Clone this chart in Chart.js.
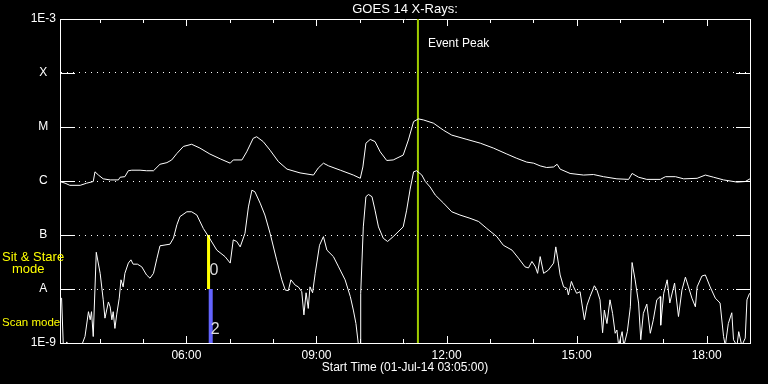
<!DOCTYPE html>
<html>
<head>
<meta charset="utf-8">
<script src="https://cdn.jsdelivr.net/npm/chart.js@4"></script>
<style>
html,body{margin:0;padding:0;background:#000;}
canvas{display:block;}
</style>
</head>
<body>
<canvas id="c" width="768" height="384"></canvas>
<script>
// ---- Data (time in decimal hours of 01-Jul-2014, flux as log10 W/m^2) ----
const longTime = [
  3.08,3.20,3.31,3.55,3.70,3.85,3.89,3.97,4.08,4.24,
  4.43,4.47,4.58,4.66,4.74,4.93,5.08,5.24,5.39,5.55,
  5.66,5.78,5.93,6.12,6.31,6.54,6.78,7.01,7.08,7.28,
  7.39,7.54,7.62,7.77,7.93,8.12,8.32,8.62,8.93,9.04,
  9.16,9.28,9.55,9.85,10.01,10.07,10.14,10.24,10.35,10.47,
  10.62,10.77,11.00,11.12,11.24,11.35,11.47,11.70,11.93,12.12,
  12.47,12.78,13.08,13.39,13.62,13.85,14.01,14.16,14.31,14.47,
  14.55,14.62,14.85,15.16,15.39,15.62,15.93,16.20,16.28,16.43,
  16.62,16.93,17.05,17.28,17.47,17.78,17.97,18.16,18.39,18.70,
  18.89,19.00
];
const longFlux = [
  -6.01,-6.04,-6.08,-6.08,-6.04,-6.01,-5.83,-5.89,-5.96,-5.98,
  -5.98,-5.93,-5.92,-5.81,-5.80,-5.80,-5.81,-5.81,-5.69,-5.66,
  -5.61,-5.49,-5.36,-5.32,-5.39,-5.50,-5.59,-5.67,-5.61,-5.61,
  -5.46,-5.21,-5.18,-5.27,-5.43,-5.64,-5.78,-5.85,-5.89,-5.76,
  -5.67,-5.72,-5.80,-5.89,-5.95,-5.74,-5.30,-5.23,-5.27,-5.46,
  -5.62,-5.61,-5.52,-5.24,-4.90,-4.85,-4.87,-4.93,-5.06,-5.15,
  -5.23,-5.30,-5.39,-5.50,-5.58,-5.65,-5.67,-5.72,-5.75,-5.74,
  -5.69,-5.78,-5.86,-5.89,-5.88,-5.92,-5.96,-5.97,-5.86,-5.93,
  -5.97,-5.97,-5.92,-5.92,-5.96,-5.95,-5.89,-5.93,-5.98,-6.02,
  -6.01,-5.96
];
const shortTime = [
  3.08,3.12,3.16,3.22,3.24,3.27,3.58,3.66,3.74,3.78,
  3.81,3.85,3.92,4.01,4.08,4.12,4.20,4.24,4.28,4.31,
  4.35,4.39,4.45,4.49,4.54,4.58,4.66,4.72,4.77,4.87,
  4.97,5.08,5.16,5.24,5.32,5.39,5.62,5.70,5.78,5.85,
  6.01,6.12,6.24,6.39,6.51,6.70,6.89,7.01,7.08,7.16,
  7.24,7.35,7.43,7.51,7.58,7.70,7.81,7.93,8.08,8.20,
  8.28,8.35,8.41,8.51,8.58,8.66,8.71,8.76,8.81,8.85,
  8.91,8.97,9.07,9.16,9.24,9.39,9.51,9.66,9.78,9.85,
  9.91,9.97,10.01,10.02,10.08,10.14,10.20,10.28,10.35,10.43,
  10.54,10.64,10.77,11.00,11.08,11.16,11.24,11.31,11.43,11.51,
  11.62,11.74,11.93,12.12,12.31,12.54,12.74,12.93,13.16,13.31,
  13.51,13.66,13.81,13.89,13.97,14.05,14.10,14.16,14.24,14.35,
  14.47,14.52,14.58,14.62,14.70,14.78,14.81,14.88,14.93,15.00,
  15.08,15.12,15.18,15.24,15.31,15.41,15.47,15.54,15.60,15.64,
  15.70,15.77,15.83,15.89,15.93,15.97,16.05,16.09,16.17,16.24,
  16.28,16.35,16.43,16.48,16.54,16.62,16.70,16.77,16.85,16.93,
  16.94,17.01,17.09,17.15,17.26,17.35,17.43,17.51,17.58,17.66,
  17.74,17.78,17.89,17.97,18.08,18.20,18.31,18.39,18.43,18.50,
  18.58,18.62,18.70,18.74,18.81,18.89,18.93,18.99
];
const shortFlux = [
  -8.20,-8.17,-9.05,-9.05,-8.98,-9.05,-9.05,-8.88,-8.42,-8.57,
  -8.42,-8.88,-7.32,-7.71,-8.20,-8.54,-8.24,-8.33,-8.57,-8.42,
  -8.73,-8.48,-8.17,-7.83,-7.96,-7.71,-7.52,-7.46,-7.54,-7.54,
  -7.59,-7.74,-7.80,-7.71,-7.43,-7.20,-7.17,-7.06,-6.81,-6.66,
  -6.57,-6.57,-6.63,-6.88,-7.03,-7.28,-7.40,-7.52,-7.09,-7.12,
  -7.22,-6.97,-6.48,-6.17,-6.20,-6.41,-6.63,-6.97,-7.46,-7.83,
  -8.02,-8.03,-7.83,-7.93,-7.96,-8.05,-8.48,-8.07,-8.36,-7.96,
  -8.07,-7.71,-7.19,-7.03,-7.28,-7.40,-7.59,-7.83,-8.14,-8.39,
  -8.64,-9.05,-9.05,-8.08,-6.85,-6.29,-6.25,-6.29,-6.54,-6.85,
  -7.06,-7.12,-7.03,-6.85,-6.54,-6.15,-5.83,-5.81,-5.89,-6.01,
  -6.11,-6.26,-6.41,-6.57,-6.63,-6.69,-6.75,-6.88,-7.03,-7.19,
  -7.28,-7.43,-7.59,-7.61,-7.49,-7.59,-7.71,-7.40,-7.71,-7.65,
  -7.52,-7.22,-7.52,-7.74,-7.96,-7.99,-8.11,-7.86,-7.96,-8.08,
  -8.05,-8.26,-8.57,-8.30,-8.14,-7.94,-8.02,-8.20,-8.81,-8.39,
  -8.64,-8.20,-8.45,-8.82,-8.76,-9.05,-8.79,-9.05,-8.79,-8.33,
  -7.51,-7.83,-8.26,-8.94,-8.45,-8.28,-8.82,-8.57,-8.20,-8.14,
  -8.67,-8.08,-7.83,-8.26,-7.89,-8.51,-8.02,-7.78,-7.96,-8.17,
  -8.33,-7.96,-7.76,-7.74,-7.96,-8.17,-8.26,-8.88,-9.05,-8.64,
  -8.44,-8.94,-9.05,-8.79,-9.05,-8.91,-8.20,-8.08
];
const xMin = 3 + 5/60;      // 03:05
const xMax = 19.0;
const majorHours = [6, 9, 12, 15, 18];
const majorLabels = ['06:00', '09:00', '12:00', '15:00', '18:00'];
const minorHours = [4,5,6,7,8,9,10,11,12,13,14,15,16,17,18,19];
const yLevels = [-9, -8, -7, -6, -5, -4, -3];
const yLabels = ['1E-9', 'A', 'B', 'C', 'M', 'X', '1E-3'];
const peakTime = 11.34;
const sitTime = 6.51, sitRange = [-7, -8];
const scanTime = 6.56, scanRange = [-8, -9];

const FONT = 'Liberation Sans';
Chart.defaults.font.family = FONT;
Chart.defaults.color = '#fff';

const pts = (t, v) => t.map((x, i) => ({x: x, y: v[i]}));

const bgPlugin = {
  id: 'bg',
  beforeDraw(chart) {
    const c = chart.ctx;
    c.save(); c.fillStyle = '#000'; c.fillRect(0, 0, chart.width, chart.height); c.restore();
  }
};

const ticksPlugin = {
  id: 'innerTicks',
  afterDraw(chart) {
    const c = chart.ctx, xs = chart.scales.x, ys = chart.scales.y;
    const a = chart.chartArea;
    c.save();
    c.strokeStyle = '#fff'; c.lineWidth = 1;
    c.beginPath();
    minorHours.forEach(h => {
      const px = Math.round(xs.getPixelForValue(h)) + 0.5;
      const len = majorHours.includes(h) ? 7 : 4;
      c.moveTo(px, a.bottom); c.lineTo(px, a.bottom - len);
      c.moveTo(px, a.top); c.lineTo(px, a.top + len);
    });
    yLevels.slice(1, -1).forEach(v => {
      const py = Math.round(ys.getPixelForValue(v)) + 0.5;
      c.moveTo(a.left, py); c.lineTo(a.left + 15, py);
      c.moveTo(a.right, py); c.lineTo(a.right - 14, py);
    });
    c.stroke();
    // annotations
    c.textBaseline = 'middle';
    c.textAlign = 'left';
    c.fillStyle = '#fff';
    c.font = '12px "' + FONT + '"';
    c.fillText('Event Peak', xs.getPixelForValue(peakTime) + 10, ys.getPixelForValue(-3.45));
    c.fillStyle = '#ddd';
    c.font = '16px "' + FONT + '"';
    c.fillText('0', xs.getPixelForValue(sitTime) + 1, ys.getPixelForValue(-7.65));
    c.fillText('2', xs.getPixelForValue(scanTime), ys.getPixelForValue(-8.75));
    c.fillStyle = '#ffff00';
    c.font = '13px "' + FONT + '"';
    c.fillText('Sit & Stare', 2, ys.getPixelForValue(-7.41));
    c.fillText('mode', 12, ys.getPixelForValue(-7.64));
    c.font = '11.5px "' + FONT + '"';
    c.fillText('Scan mode', 2, ys.getPixelForValue(-8.62));
    c.restore();
  }
};

new Chart(document.getElementById('c'), {
  type: 'line',
  data: {
    datasets: [
      {data: pts(longTime, longFlux), borderColor: '#fff', borderWidth: 1, pointRadius: 0, tension: 0},
      {data: pts(shortTime, shortFlux), borderColor: '#fff', borderWidth: 1, pointRadius: 0, tension: 0},
      {data: [{x: peakTime, y: -9}, {x: peakTime, y: -3}], borderColor: '#a0cc00', borderWidth: 2, pointRadius: 0},
      {data: [{x: sitTime, y: sitRange[0]}, {x: sitTime, y: sitRange[1]}], borderColor: '#ffff00', borderWidth: 3, pointRadius: 0},
      {data: [{x: scanTime, y: scanRange[0]}, {x: scanTime, y: scanRange[1]}], borderColor: '#6464ff', borderWidth: 4, pointRadius: 0}
    ]
  },
  options: {
    responsive: false,
    animation: false,
    layout: {padding: 0},
    plugins: {legend: {display: false}, tooltip: {enabled: false}, title: {display: false}},
    scales: {
      x: {
        type: 'linear', position: 'bottom', min: xMin, max: xMax,
        afterFit(s) { s.height = 41; },
        afterBuildTicks(s) { s.ticks = majorHours.map(v => ({value: v})); },
        ticks: {
          color: '#fff', font: {size: 12}, padding: 5, maxRotation: 0, autoSkip: false,
          callback: (v) => majorLabels[majorHours.indexOf(v)]
        },
        grid: {display: false, drawTicks: false},
        border: {display: true, color: '#fff', width: 1},
        title: {display: true, text: 'Start Time (01-Jul-14 03:05:00)', color: '#fff', font: {size: 12}, padding: {top: 0, bottom: 9}}
      },
      x2: {
        type: 'linear', position: 'top', min: xMin, max: xMax,
        afterFit(s) { s.height = 19; },
        ticks: {display: false},
        grid: {display: false, drawTicks: false},
        border: {display: true, color: '#fff', width: 1},
        title: {display: true, text: 'GOES 14 X-Rays:', color: '#fff', font: {size: 13}, padding: {top: 2, bottom: 0}}
      },
      y: {
        type: 'linear', position: 'left', min: -9, max: -3,
        afterFit(s) { s.width = 60; },
        afterBuildTicks(s) { s.ticks = yLevels.map(v => ({value: v})); },
        ticks: {
          color: '#fff', font: {size: 12}, padding: 4, crossAlign: 'center', autoSkip: false,
          callback: (v) => yLabels[yLevels.indexOf(v)]
        },
        grid: {display: true, color: '#fff', lineWidth: 1, drawTicks: false},
        border: {display: true, color: '#fff', width: 1, dash: [1, 5]}
      },
      y2: {
        type: 'linear', position: 'right', min: -9, max: -3,
        afterFit(s) { s.width = 18; },
        ticks: {display: false},
        grid: {display: false, drawTicks: false},
        border: {display: true, color: '#fff', width: 1}
      }
    }
  },
  plugins: [bgPlugin, ticksPlugin]
});
</script>
</body>
</html>
